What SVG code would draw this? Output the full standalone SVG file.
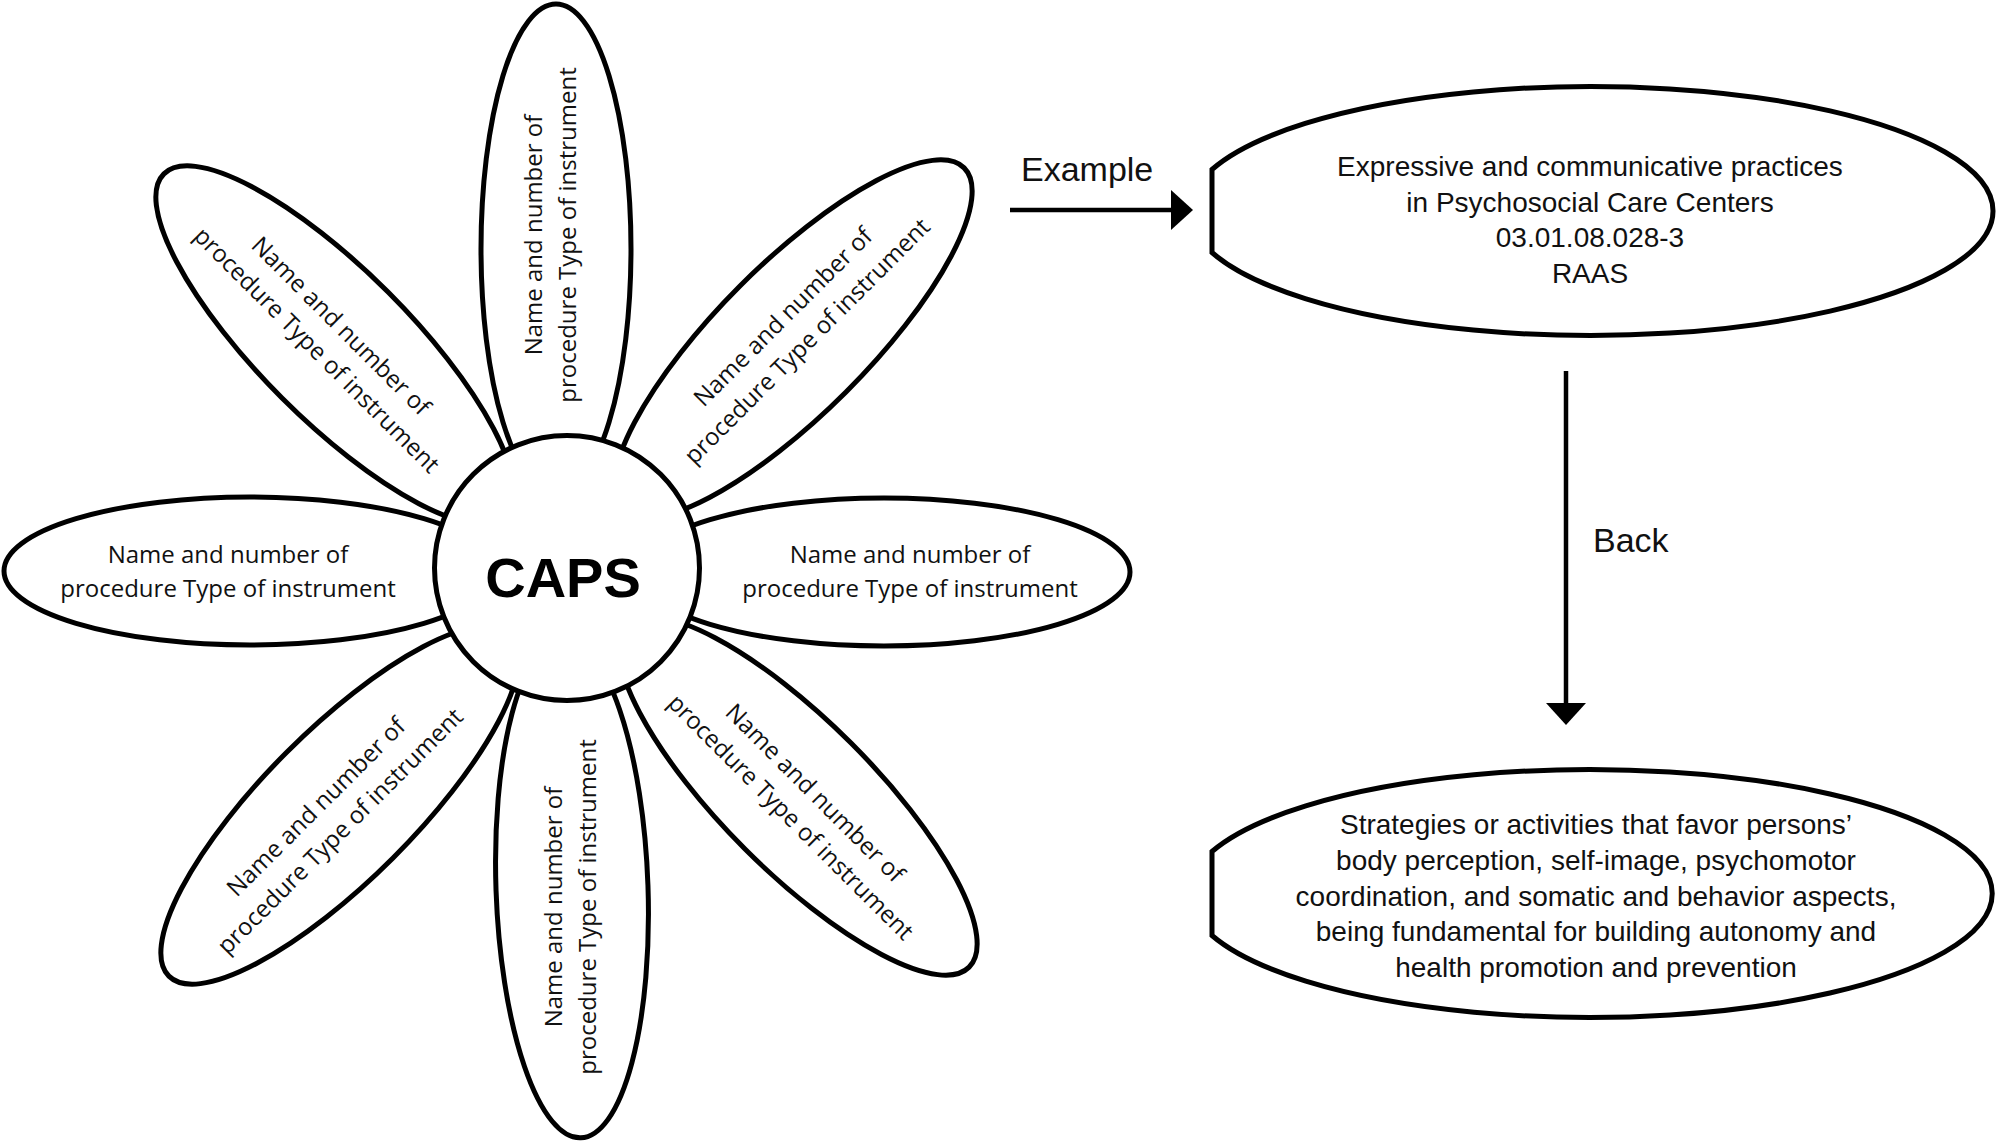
<svg xmlns="http://www.w3.org/2000/svg" width="2000" height="1142" viewBox="0 0 2000 1142">
<style>
.petal { fill:#fff; stroke:#000; stroke-width:5; }
.pt { font-family:"Open Sans","Liberation Sans",sans-serif; font-size:24px; text-anchor:middle; fill:#111; }
.lbl { font-family:"Liberation Sans",Arial,sans-serif; font-size:28px; text-anchor:middle; fill:#111; }
.conn { stroke:#000; stroke-width:4.5; fill:none; }
.clabel { font-family:"Liberation Sans",Arial,sans-serif; font-size:34px; fill:#111; }
</style>
<defs>
<marker id="ah" markerUnits="userSpaceOnUse" markerWidth="22" markerHeight="40" viewBox="0 0 22 40" refX="0" refY="20" orient="auto">
<path d="M0,0 L22,20 L0,40 Z" fill="#000"/>
</marker>
</defs>
<rect width="2000" height="1142" fill="#fff"/>

<g id="petal-top">
<ellipse class="petal" cx="556" cy="249" rx="75" ry="245"/>
<g transform="translate(552,235) rotate(-90)"><text class="pt"><tspan x="0" y="-10">Name and number of</tspan><tspan x="0" y="24">procedure Type of instrument</tspan></text></g>
</g>
<g id="petal-bottom">
<ellipse class="petal" cx="572" cy="888" rx="76" ry="250" transform="rotate(-2 572 888)"/>
<g transform="translate(572,907) rotate(-90)"><text class="pt"><tspan x="0" y="-10">Name and number of</tspan><tspan x="0" y="24">procedure Type of instrument</tspan></text></g>
</g>
<g id="petal-left">
<ellipse class="petal" cx="250" cy="571" rx="246" ry="74"/>
<g transform="translate(228,573)"><text class="pt"><tspan x="0" y="-10">Name and number of</tspan><tspan x="0" y="24">procedure Type of instrument</tspan></text></g>
</g>
<g id="petal-right">
<ellipse class="petal" cx="884" cy="572" rx="246" ry="74"/>
<g transform="translate(910,573)"><text class="pt"><tspan x="0" y="-10">Name and number of</tspan><tspan x="0" y="24">procedure Type of instrument</tspan></text></g>
</g>
<g id="petal-upper-left">
<ellipse class="petal" cx="0" cy="0" rx="242" ry="75" transform="translate(335,345) rotate(45)"/>
<g transform="translate(328,339) rotate(45)"><text class="pt"><tspan x="0" y="-10">Name and number of</tspan><tspan x="0" y="24">procedure Type of instrument</tspan></text></g>
</g>
<g id="petal-upper-right">
<ellipse class="petal" cx="0" cy="0" rx="242" ry="75" transform="translate(793,339) rotate(-45)"/>
<g transform="translate(796,330) rotate(-45)"><text class="pt"><tspan x="0" y="-10">Name and number of</tspan><tspan x="0" y="24">procedure Type of instrument</tspan></text></g>
</g>
<g id="petal-lower-left">
<ellipse class="petal" cx="0" cy="0" rx="242" ry="75" transform="translate(340,805) rotate(-45)"/>
<g transform="translate(329,820) rotate(-45)"><text class="pt"><tspan x="0" y="-10">Name and number of</tspan><tspan x="0" y="24">procedure Type of instrument</tspan></text></g>
</g>
<g id="petal-lower-right">
<ellipse class="petal" cx="0" cy="0" rx="242" ry="75" transform="translate(798,796) rotate(45)"/>
<g transform="translate(802,806) rotate(45)"><text class="pt"><tspan x="0" y="-10">Name and number of</tspan><tspan x="0" y="24">procedure Type of instrument</tspan></text></g>
</g>

<g id="center-caps">
<circle class="petal" cx="567" cy="568" r="132.5"/>
<text x="563" y="597" font-family="'Liberation Sans',Arial,sans-serif" font-size="56" font-weight="bold" text-anchor="middle" fill="#000">CAPS</text>
</g>

<g id="example-node">
<path class="petal" d="M1212,169.5 A402,124.5 0 1 1 1212,252.5 Z"/>
<text class="lbl"><tspan x="1590" y="176">Expressive and communicative practices</tspan><tspan x="1590" y="212">in Psychosocial Care Centers</tspan><tspan x="1590" y="247">03.01.08.028-3</tspan><tspan x="1590" y="283">RAAS</tspan></text>
</g>

<g id="back-node">
<path class="petal" d="M1212,851.5 A402,124 0 1 1 1212,935.5 Z"/>
<text class="lbl"><tspan x="1596" y="834">Strategies or activities that favor persons’</tspan><tspan x="1596" y="870">body perception, self-image, psychomotor</tspan><tspan x="1596" y="906">coordination, and somatic and behavior aspects,</tspan><tspan x="1596" y="941">being fundamental for building autonomy and</tspan><tspan x="1596" y="977">health promotion and prevention</tspan></text>
</g>

<g id="connectors">
<line class="conn" x1="1010" y1="210" x2="1171" y2="210" marker-end="url(#ah)"/>
<text class="clabel" x="1021" y="181">Example</text>
<line class="conn" x1="1566" y1="371" x2="1566" y2="703" marker-end="url(#ah)"/>
<text class="clabel" x="1593" y="552">Back</text>
</g>
</svg>
